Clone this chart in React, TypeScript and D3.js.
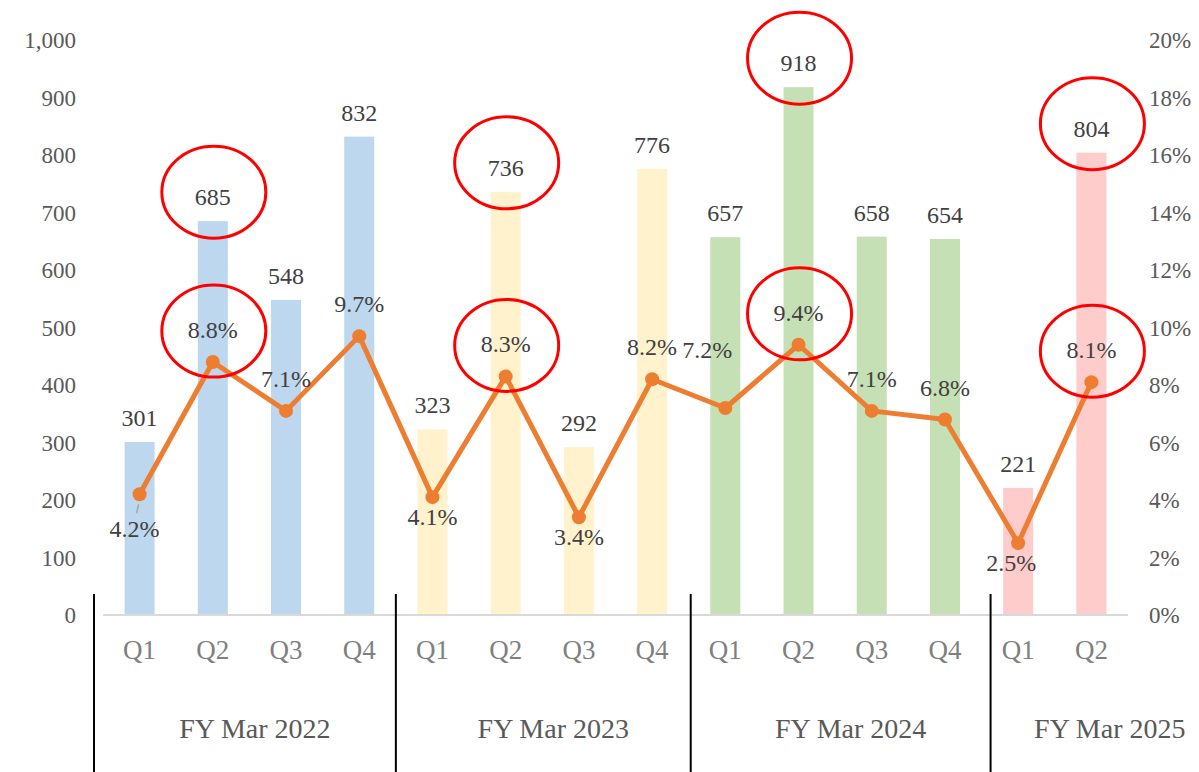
import React, { useEffect, useRef } from "react";
import * as d3 from "d3";

const quarters = ["Q1", "Q2", "Q3", "Q4", "Q1", "Q2", "Q3", "Q4", "Q1", "Q2", "Q3", "Q4", "Q1", "Q2"];
const fiscalYears = ["FY Mar 2022", "FY Mar 2023", "FY Mar 2024", "FY Mar 2025"];
const yearOfQuarter = [0, 0, 0, 0, 1, 1, 1, 1, 2, 2, 2, 2, 3, 3];
const revenue = [301, 685, 548, 832, 323, 736, 292, 776, 657, 918, 658, 654, 221, 804];
const margin = [4.2, 8.8, 7.1, 9.7, 4.1, 8.3, 3.4, 8.2, 7.2, 9.4, 7.1, 6.8, 2.5, 8.1];
const marginLabelPos = ["below", "above", "above", "above", "below", "above", "below", "above", "left", "above", "above", "above", "below", "above"];
const highlighted = [1, 5, 9, 13];
const leftTicks = [0, 100, 200, 300, 400, 500, 600, 700, 800, 900, 1000];
const rightTicks = [0, 2, 4, 6, 8, 10, 12, 14, 16, 18, 20];

const yearColors = ["#bdd7ee", "#fff2cc", "#c5e0b4", "#ffcccc"];

const W = 1199;
const H = 772;

const Chart: React.FC = () => {
  const svgRef = useRef<SVGSVGElement | null>(null);

  useEffect(() => {
    if (!svgRef.current) return;
    const svg = d3.select(svgRef.current);
    svg.selectAll("*").remove();

    const plot = { left: 103, right: 1128, top: 40, bottom: 615 };
    const font = "'Liberation Serif', 'Times New Roman', serif";

    const x = d3
      .scaleBand<number>()
      .domain(d3.range(quarters.length))
      .range([plot.left, plot.right]);
    const step = x.step();
    const cx = (i: number) => x(i)! + step / 2;
    const barW = step * 0.41;

    const yL = d3.scaleLinear().domain([0, 1000]).range([plot.bottom, plot.top]);
    const yR = d3.scaleLinear().domain([0, 20]).range([plot.bottom, plot.top]);

    // bars
    svg
      .append("g")
      .selectAll("rect")
      .data(revenue)
      .enter()
      .append("rect")
      .attr("x", (_, i) => cx(i) - barW / 2)
      .attr("width", barW)
      .attr("y", (d) => yL(d))
      .attr("height", (d) => yL(0) - yL(d))
      .attr("fill", (_, i) => yearColors[yearOfQuarter[i]]);

    // baseline
    svg
      .append("line")
      .attr("x1", plot.left)
      .attr("x2", plot.right)
      .attr("y1", yL(0))
      .attr("y2", yL(0))
      .attr("stroke", "#d9d9d9")
      .attr("stroke-width", 2);

    // left axis labels
    svg
      .append("g")
      .selectAll("text")
      .data(leftTicks)
      .enter()
      .append("text")
      .attr("x", 76)
      .attr("y", (d) => yL(d) + 8)
      .attr("text-anchor", "end")
      .attr("font-family", font)
      .attr("font-size", 23)
      .attr("fill", "#595959")
      .text((d) => d3.format(",")(d));

    // right axis labels
    svg
      .append("g")
      .selectAll("text")
      .data(rightTicks)
      .enter()
      .append("text")
      .attr("x", 1149)
      .attr("y", (d) => yR(d) + 8)
      .attr("text-anchor", "start")
      .attr("font-family", font)
      .attr("font-size", 23)
      .attr("fill", "#595959")
      .text((d) => `${d}%`);

    // quarter labels
    svg
      .append("g")
      .selectAll("text")
      .data(quarters)
      .enter()
      .append("text")
      .attr("x", (_, i) => cx(i))
      .attr("y", plot.bottom + 44)
      .attr("text-anchor", "middle")
      .attr("font-family", font)
      .attr("font-size", 27)
      .attr("fill", "#7f7f7f")
      .text((d) => d);

    // year dividers
    const dividers = [
      plot.left - 9,
      x(4)!,
      x(8)! + 2,
      x(12)! + 9,
    ];
    svg
      .append("g")
      .selectAll("line")
      .data(dividers)
      .enter()
      .append("line")
      .attr("x1", (d) => d)
      .attr("x2", (d) => d)
      .attr("y1", plot.bottom - 21)
      .attr("y2", H)
      .attr("stroke", "#000")
      .attr("stroke-width", 2);

    const bounds = [...dividers, W + 10];
    svg
      .append("g")
      .selectAll("text")
      .data(fiscalYears)
      .enter()
      .append("text")
      .attr("x", (_, i) => (bounds[i] + bounds[i + 1]) / 2 + 10)
      .attr("y", 738)
      .attr("text-anchor", "middle")
      .attr("font-family", font)
      .attr("font-size", 28)
      .attr("fill", "#595959")
      .text((d) => d);

    // bar value labels
    svg
      .append("g")
      .selectAll("text")
      .data(revenue)
      .enter()
      .append("text")
      .attr("x", (_, i) => cx(i))
      .attr("y", (d) => yL(d) - 16)
      .attr("text-anchor", "middle")
      .attr("font-family", font)
      .attr("font-size", 24)
      .attr("fill", "#404040")
      .text((d) => d);

    // margin line
    const line = d3
      .line<number>()
      .x((_, i) => cx(i))
      .y((d) => yR(d));
    svg
      .append("path")
      .datum(margin)
      .attr("fill", "none")
      .attr("stroke", "#ed7d31")
      .attr("stroke-width", 5)
      .attr("stroke-linejoin", "round")
      .attr("d", line);

    svg
      .append("g")
      .selectAll("circle")
      .data(margin)
      .enter()
      .append("circle")
      .attr("cx", (_, i) => cx(i))
      .attr("cy", (d) => yR(d))
      .attr("r", 7)
      .attr("fill", "#ed7d31");

    // margin labels
    const labelCenter = (d: number, i: number): [number, number] => {
      const px = cx(i);
      const py = yR(d);
      const pos = marginLabelPos[i];
      if (pos === "below") return [px - (i === 12 ? 7 : 0) - (i === 0 ? 5 : 0), py + (i === 0 ? 35 : 20)];
      if (pos === "left") return [px - 18, py - 58];
      return [px, py - 32];
    };

    // leader line for first label
    {
      const px = cx(0);
      const py = yR(margin[0]);
      svg
        .append("line")
        .attr("x1", px - 1)
        .attr("y1", py + 10)
        .attr("x2", px - 3)
        .attr("y2", py + 19)
        .attr("stroke", "#a6a6a6")
        .attr("stroke-width", 1.5);
    }

    svg
      .append("g")
      .selectAll("text")
      .data(margin)
      .enter()
      .append("text")
      .attr("x", (d, i) => labelCenter(d, i)[0])
      .attr("y", (d, i) => labelCenter(d, i)[1] + 8)
      .attr("text-anchor", "middle")
      .attr("font-family", font)
      .attr("font-size", 24)
      .attr("fill", "#404040")
      .text((d) => `${d.toFixed(1)}%`);

    // red highlight ellipses
    const rings = svg.append("g");
    highlighted.forEach((i) => {
      rings
        .append("ellipse")
        .attr("cx", cx(i) + 1)
        .attr("cy", yL(revenue[i]) - 29)
        .attr("rx", 52)
        .attr("ry", 46)
        .attr("fill", "none")
        .attr("stroke", "#ff0000")
        .attr("stroke-width", 3);
      const [lx, ly] = labelCenter(margin[i], i);
      rings
        .append("ellipse")
        .attr("cx", lx + 1)
        .attr("cy", ly + 1)
        .attr("rx", 52)
        .attr("ry", 46)
        .attr("fill", "none")
        .attr("stroke", "#ff0000")
        .attr("stroke-width", 3);
    });
  }, []);

  return (
    <svg
      ref={svgRef}
      width={W}
      height={H}
      style={{ position: "absolute", left: 0, top: 0, background: "#fff" }}
    ></svg>
  );
};

export default function App() {
  return <Chart />;
}
